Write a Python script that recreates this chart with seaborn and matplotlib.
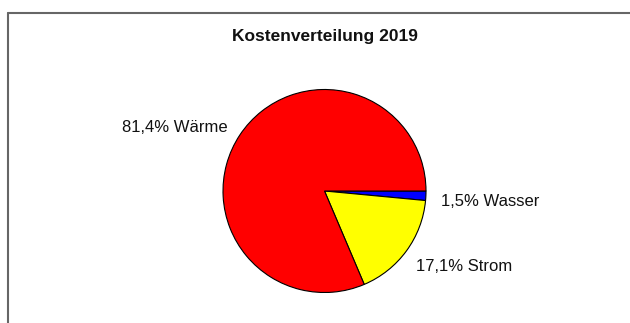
import matplotlib
matplotlib.use("Agg")
import matplotlib.pyplot as plt
from matplotlib.lines import Line2D
import seaborn as sns

# Data
categories = ["Wasser", "Strom", "Wärme"]
values = [1.5, 17.1, 81.4]
value_labels = ["1,5%", "17,1%", "81,4%"]
colors = ["#0000FF", "#FFFF00", "#FF0000"]
title = "Kostenverteilung 2019"

sns.set_theme(style="white")
plt.rcParams["font.family"] = ["Liberation Sans", "DejaVu Sans"]

W, H = 630, 323
fig = plt.figure(figsize=(W / 100, H / 100), dpi=100)
fig.patch.set_facecolor("white")

cx, cy, r = 324.5, 191.0, 101.5
ax = fig.add_axes([(cx - r) / W, (H - cy - r) / H, 2 * r / W, 2 * r / H])

labels = [f"{p} {c}" for p, c in zip(value_labels, categories)]
wedges, texts = ax.pie(
    values,
    labels=labels,
    colors=colors,
    startangle=0,
    counterclock=False,
    labeldistance=1.15,
    wedgeprops=dict(edgecolor="black", linewidth=0.8),
    textprops=dict(fontsize=12, color="#111111"),
)
for w in wedges:
    w.set_clip_on(False)

# small label nudges (data units) to match the reference placement
nudges = {"Wasser": (0.0, -0.05), "Strom": (-0.03, -0.065), "Wärme": (0.0, -0.01)}
for t, c in zip(texts, categories):
    x, y = t.get_position()
    dx, dy = nudges[c]
    t.set_position((x + dx, y + dy))

ax.set_xlim(-1, 1)
ax.set_ylim(-1, 1)
ax.axis("off")

fig.text(325 / W, 1 - 36 / H, title, ha="center", va="center",
         fontsize=12.5, fontweight="bold", color="#111111")

# Frame lines (left and top)
lx = 7.5 / W
ty = 1 - 13 / H
fig.add_artist(Line2D([lx, lx], [0, ty], transform=fig.transFigure,
                      color="#666666", linewidth=1.5))
fig.add_artist(Line2D([lx, 1], [ty, ty], transform=fig.transFigure,
                      color="#666666", linewidth=1.5))

fig.savefig("out.png", dpi=100, facecolor="white")
